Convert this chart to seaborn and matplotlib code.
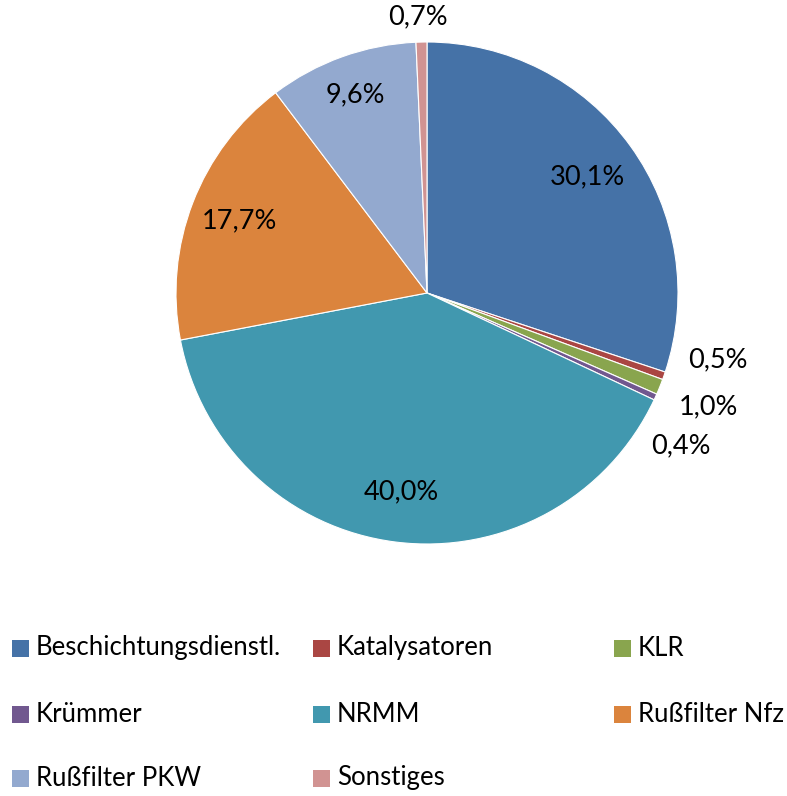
import numpy as np
import seaborn as sns
import matplotlib.pyplot as plt
from matplotlib.patches import Rectangle

categories = ['Beschichtungsdienstl.', 'Katalysatoren', 'KLR', 'Krümmer',
              'NRMM', 'Rußfilter Nfz', 'Rußfilter PKW', 'Sonstiges']
shares = [30.1, 0.5, 1.0, 0.4, 40.0, 17.7, 9.6, 0.7]
colors = ['#4572A7', '#AA4643', '#89A54E', '#71588F',
          '#4198AF', '#DB843D', '#93A9CF', '#D19392']

sns.set_theme(style="white")
plt.rcParams['font.family'] = ['Lato', 'DejaVu Sans']

fig = plt.figure(figsize=(7.87, 7.96), dpi=100)
W, H = 787, 796
cx, cy, r = 427, 293, 251
ax = fig.add_axes([(cx - r) / W, (H - cy - r) / H, 2 * r / W, 2 * r / H])

wedges, _ = ax.pie(shares, colors=sns.color_palette(colors), startangle=90,
                   counterclock=False, radius=1.0,
                   wedgeprops=dict(edgecolor='white', linewidth=0.8))
ax.set_xlim(-1, 1)
ax.set_ylim(-1, 1)
ax.set_aspect('equal')
ax.axis('off')

# Abstand und Winkelversatz der Beschriftungen
label_dist = [0.79, 1.19, 1.21, 1.18, 0.80, 0.80, 0.84, 1.10]
label_shift = [0, 6.4, 0, -6.5, 0, 0, 0, 0.6]
for w, v, d, s in zip(wedges, shares, label_dist, label_shift):
    mid = np.deg2rad((w.theta1 + w.theta2) / 2 + s)
    ax.text(d * np.cos(mid), d * np.sin(mid), f'{v:.1f}%'.replace('.', ','),
            ha='center', va='center', fontsize=19.5, color='black')

# Legende im Raster 3 x 3
col_x = [12, 313, 614]
row_y = [648, 714, 778]
sq = 17
for i, (name, c) in enumerate(zip(categories, colors)):
    x = col_x[i % 3]
    y = row_y[i // 3]
    fig.patches.append(Rectangle((x / W, (H - y - sq / 2) / H), sq / W, sq / H,
                                 transform=fig.transFigure, facecolor=c,
                                 edgecolor='none'))
    fig.text((x + sq + 7) / W, (H - y) / H, name, ha='left', va='center',
             fontsize=18.5, color='black')

fig.savefig('out.png', dpi=100)
